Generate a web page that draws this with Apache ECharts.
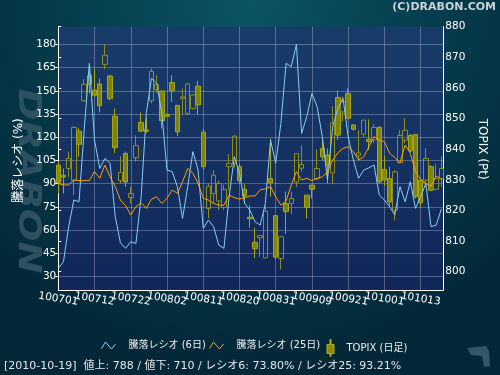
<!DOCTYPE html>
<html>
<head>
<meta charset="utf-8">
<script src="https://cdn.jsdelivr.net/npm/echarts@6/dist/echarts.min.js"></script>
<style>html,body{margin:0;padding:0;background:#04303f;}#c{width:500px;height:375px;}</style>
</head>
<body>
<div id="c"></div>
<script>
// ---- data ----
var dates = ['100701','100702','100705','100706','100707','100708','100709','100712','100713','100714','100715','100716','100720','100721','100722','100723','100726','100727','100728','100729','100730',
'100802','100803','100804','100805','100806','100809','100810','100811','100812','100813','100816','100817','100818','100819','100820','100823','100824','100825','100826','100827','100830','100831',
'100901','100902','100903','100906','100907','100908','100909','100910','100913','100914','100915','100916','100917','100921','100922','100924','100927','100928','100929','100930',
'101001','101004','101005','101006','101007','101008','101012','101013','101014','101015','101018','101019'];

var ratio6 = [35.4,39.7,62.2,79.5,78.4,124.7,167.7,118.2,99.9,106.4,103.2,68.7,51.9,48.3,52.6,51.5,81.6,135.4,158.0,154.8,
135.4,98.8,97.8,88.1,67.6,88.1,110.7,98.8,61.2,66.6,62.3,50.4,48.3,81.6,107.5,96.7,77.3,73.0,65.5,63.3,
77.3,118.2,103.2,129.0,167.7,165.6,180.0,122.5,133.3,148.3,139.7,120.4,92.4,126.8,138.6,145.1,120.4,105.3,93.5,98.8,
100.3,102.1,82.7,79.5,75.2,69.8,88.1,78.4,91.3,74.1,81.6,90.2,62.3,63.3,73.8];

var ratio25 = [90.2,89.2,89.2,92.4,92.0,92.0,92.0,97.8,93.5,102.1,94.5,88.1,79.5,75.8,69.8,75.2,77.8,74.1,80.1,81.6,
77.3,80.6,85.9,83.8,91.3,99.9,96.7,90.2,80.6,79.5,77.3,76.2,76.2,82.7,81.0,80.1,81.0,82.1,82.1,86.0,
86.8,88.1,81.6,76.2,78.8,89.2,97.8,92.4,93.5,92.0,93.5,94.5,97.8,105.3,110.0,112.8,113.9,110.7,105.3,107.5,
113.9,120.4,118.2,117.1,109.6,107.0,103.6,115.0,109.6,97.8,92.8,90.2,88.5,95.0,93.2];

// TOPIX daily: [open, close, low, high]
var topix = [
[834.8,829.0,825.5,836.0],[831.5,830.9,825.5,833.7],[833.7,837.0,831.0,839.2],[829.9,847.1,825.0,847.5],[845.9,841.6,837.5,846.8],
[855.8,861.2,855.5,862.9],[864.1,861.2,858.2,866.7],[859.3,857.6,857.1,866.1],[861.3,854.2,852.0,863.1],[867.7,870.7,866.1,874.3],
[863.9,856.5,856.0,864.2],[850.8,840.5,838.8,853.3],[829.7,832.4,828.8,837.7],[838.6,829.3,827.7,839.2],[824.2,825.5,822.3,827.7],
[837.2,841.2,835.9,844.5],[848.7,845.9,845.7,852.0],[846.3,845.9,845.2,850.3],[855.8,865.4,855.0,866.4],[859.5,861.2,858.2,864.2],
[859.0,849.3,846.8,859.0],[851.4,850.8,850.5,851.5],[861.8,859.1,855.5,864.2],[854.3,845.7,844.3,854.4],[856.6,857.1,851.1,859.9],
[851.7,861.3,851.1,861.7],[853.3,857.7,853.0,858.0],[860.6,854.5,851.4,862.3],[845.6,834.3,833.2,846.6],[820.6,827.9,817.4,828.8],
[825.5,831.5,822.3,833.2],[823.1,828.8,820.1,829.7],[821.0,826.8,820.1,828.4],[834.3,835.3,826.6,838.4],[835.3,844.3,834.0,844.5],
[834.3,829.7,828.6,835.3],[826.9,824.8,822.3,828.6],[817.8,817.3,814.4,821.7],[809.6,807.5,804.5,814.4],[811.1,811.8,804.8,811.8],
[804.5,819.7,804.5,821.7],[830.4,829.0,824.5,843.5],[818.3,804.8,804.0,818.5],[804.3,811.4,800.7,811.5],[822.3,819.6,812.3,826.1],
[822.3,823.9,818.8,826.1],[829.3,838.6,827.7,838.6],[833.8,835.0,832.6,841.3],[825.0,821.0,817.4,825.0],[828.3,826.9,823.9,828.3],
[830.4,833.7,829.9,839.9],[840.2,837.5,836.4,843.2],[838.1,834.8,828.8,840.2],[832.3,848.6,828.6,854.1],[856.9,844.6,843.0,859.1],
[852.2,855.5,849.0,857.2],[858.2,850.1,850.0,859.9],[847.9,846.5,846.0,848.2],[838.0,838.8,836.4,846.2],[844.9,849.5,844.0,849.5],
[843.2,842.5,839.7,849.7],[843.0,847.1,841.9,848.2],[847.1,829.3,828.8,847.5],[833.4,829.9,828.0,838.0],[830.4,822.8,821.2,834.3],
[820.1,832.6,816.8,833.2],[835.6,844.5,835.3,846.2],[843.0,846.2,841.9,850.1],[844.5,839.5,839.0,845.0],[844.8,824.5,823.9,845.0],
[829.9,822.5,821.0,830.0],[829.9,837.0,827.7,840.3],[834.3,826.6,826.4,834.8],[826.9,830.4,826.6,835.3],[830.4,833.7,827.7,837.7]];

var ratioTicks = {min: 30, max: 180, step: 15};
var topixTicks = {min: 800, max: 880, step: 10};
var dateStep = 7;
var seriesNames = ['騰落レシオ (6日)', '騰落レシオ (25日)', 'TOPIX (日足)'];
var statusText = '[2010-10-19]  値上: 788 / 値下: 710 / レシオ6: 73.80% / レシオ25: 93.21%';
var titleText = '(C)DRABON.COM';

// ---- chart ----
var FONT = '"DejaVu Sans", "Noto Sans CJK JP", sans-serif';
var chart = echarts.init(document.getElementById('c'), null, {renderer: 'canvas'});
var XMAX = 74.37;
var gl = 58.3, gr = 56.7;
var PW = 500 - gl - gr;
var unit = PW / XMAX;
var gridColor = 'rgba(255,255,255,0.27)';

function isMult(v, m) { var r = Math.round(v); return Math.abs(v - r) < 1e-6 && r % m === 0; }
var labelBase = {show: true, color: '#ffffff', fontSize: 10.5, fontFamily: FONT, rotate: -9, align: 'center',
  verticalAlign: 'middle', margin: 9, showMinLabel: true, showMaxLabel: false};

var option = {
  animation: false,
  textStyle: {fontFamily: FONT},
  graphic: {elements: [
    {type: 'rect', z: -100, silent: true, shape: {x: 0, y: 0, width: 500, height: 375},
     style: {fill: {type: 'radial', x: 0.5, y: 0, r: 1.0, colorStops: [
       {offset: 0, color: '#0b5464'}, {offset: 0.55, color: '#053a4a'}, {offset: 1, color: '#032737'}]}}},
    {type: 'text', z: -50, silent: true, x: 27, y: 181, rotation: -Math.PI / 2, scaleX: 1.2,
     style: {text: 'DRABON', font: 'italic bold 32px "DejaVu Sans"', fill: '#2e5061', align: 'center', verticalAlign: 'middle'}},
    {type: 'polygon', z: -50, silent: true, shape: {points: [[467,348],[486,346],[489,351],[490,366],[484,367],[482,356],[471,355]]},
     style: {fill: '#33566a'}},
    {type: 'text', silent: true, x: 496, y: 7.5,
     style: {text: titleText, font: 'bold 11px "DejaVu Sans"', fill: '#c8d2d6', align: 'right', verticalAlign: 'middle'}},
    {type: 'text', silent: true, x: 4, y: 366,
     style: {text: statusText, font: '11px ' + FONT, fill: '#e6e6e6', align: 'left', verticalAlign: 'middle'}}
  ]},
  grid: [
    {left: gl, right: gr, top: 26.7, bottom: 85, show: true, borderWidth: 0,
     backgroundColor: {type: 'linear', x: 0, y: 0, x2: 0, y2: 1, colorStops: [{offset: 0, color: '#183c69'}, {offset: 1, color: '#112659'}]}},
    {left: gl, right: gr, top: 44.3, bottom: 98.3},
    {left: gl, right: gr, top: 26.7, bottom: 103.3},
    // label-only grid shifted by one date step (odd labels)
    {left: gl + dateStep * unit, right: gr, top: 26.7, bottom: 85}
  ],
  xAxis: [
    {type: 'value', gridIndex: 0, min: 0, max: XMAX, interval: dateStep,
     axisLine: {show: true, lineStyle: {color: '#ffffff', width: 1}},
     axisTick: {show: false},
     splitLine: {show: true, lineStyle: {color: gridColor, width: 1}},
     axisLabel: {show: false}},
    {type: 'value', gridIndex: 1, min: 0, max: XMAX, show: false},
    {type: 'value', gridIndex: 2, min: 0, max: XMAX, interval: dateStep * 2, offset: 18.3,
     axisLine: {show: false}, axisTick: {show: false}, splitLine: {show: false},
     axisLabel: Object.assign({}, labelBase, {formatter: function (v) { return isMult(v, dateStep * 2) && dates[Math.round(v)] ? dates[Math.round(v)] : ''; }})},
    {type: 'value', gridIndex: 3, min: 0, max: XMAX - dateStep, interval: dateStep * 2,
     axisLine: {show: false}, axisTick: {show: false}, splitLine: {show: false},
     axisLabel: Object.assign({}, labelBase, {formatter: function (v) { var k = Math.round(v) + dateStep; return isMult(v, dateStep * 2) && dates[k] ? dates[k] : ''; }})}
  ],
  yAxis: [
    {type: 'value', gridIndex: 0, min: 0, max: 1, position: 'left',
     axisLine: {show: true, lineStyle: {color: '#ffffff', width: 1}}, axisTick: {show: false}, axisLabel: {show: false}, splitLine: {show: false}},
    {type: 'value', gridIndex: 0, min: 0, max: 1, position: 'right',
     axisLine: {show: true, lineStyle: {color: '#ffffff', width: 1}}, axisTick: {show: false}, axisLabel: {show: false}, splitLine: {show: false}},
    {type: 'value', gridIndex: 1, position: 'left', min: ratioTicks.min, max: ratioTicks.max, interval: ratioTicks.step,
     name: '騰落レシオ (%)', nameLocation: 'middle', nameGap: 33,
     nameTextStyle: {color: '#ffffff', fontSize: 12, fontFamily: FONT},
     axisLine: {show: false},
     axisTick: {show: true, length: 3, lineStyle: {color: '#ffffff'}},
     axisLabel: {color: '#ffffff', fontSize: 10.5, fontFamily: FONT, margin: 2},
     splitLine: {show: true, lineStyle: {color: gridColor, width: 1}}},
    {type: 'value', gridIndex: 2, position: 'right', min: topixTicks.min, max: topixTicks.max, interval: topixTicks.step,
     name: 'TOPIX (Pt)', nameLocation: 'middle', nameGap: 33, nameRotate: -90,
     nameTextStyle: {color: '#ffffff', fontSize: 12, fontFamily: FONT},
     axisLine: {show: false},
     axisTick: {show: true, length: 3, lineStyle: {color: '#ffffff'}},
     axisLabel: {color: '#ffffff', fontSize: 10.5, fontFamily: FONT, margin: 2},
     splitLine: {show: false}},
    {type: 'value', gridIndex: 3, min: 0, max: 1, show: false}
  ],
  legend: [
    {left: 96, top: 335.5, itemWidth: 14, itemHeight: 14, selectedMode: false,
     textStyle: {color: '#eeeeee', fontSize: 10, fontFamily: FONT, padding: [0, 0, 0, 8]},
     data: [{name: seriesNames[0], icon: 'path://M0,7 L4,0.5 L10,7.5 L14,2.5', itemStyle: {color: 'rgba(0,0,0,0)', borderColor: '#8fd4f4', borderWidth: 1}}]},
    {left: 204, top: 335.5, itemWidth: 14, itemHeight: 14, selectedMode: false,
     textStyle: {color: '#eeeeee', fontSize: 10, fontFamily: FONT, padding: [0, 0, 0, 8]},
     data: [{name: seriesNames[1], icon: 'path://M0,7 L4,0.5 L10,7.5 L14,2.5', itemStyle: {color: 'rgba(0,0,0,0)', borderColor: '#ffa200', borderWidth: 1}}]},
    {left: 321.5, top: 334, itemWidth: 14, itemHeight: 17, selectedMode: false,
     textStyle: {color: '#eeeeee', fontSize: 10, fontFamily: FONT, padding: [0, 0, 0, 4]},
     data: [{name: seriesNames[2], icon: 'path://M3,0 L4,0 L4,5 L7,5 L7,14 L4,14 L4,17 L3,17 L3,14 L0,14 L0,5 L3,5 Z', itemStyle: {color: '#8c8c00', borderColor: '#b4b420', borderWidth: 1}}]}
  ],
  series: [
    {name: seriesNames[2], type: 'candlestick', xAxisIndex: 2, yAxisIndex: 3, z: 2,
     data: topix.map(function (c, i) { return [i, c[0], c[1], c[2], c[3]]; }),
     encode: {x: 0, y: [1, 2, 3, 4]},
     barWidth: 5,
     itemStyle: {color: 'rgba(0,0,0,0)', color0: 'rgba(140,140,0,0.9)', borderColor: '#8e8e16', borderColor0: '#a6a614', borderWidth: 1}},
    {name: seriesNames[0], type: 'line', xAxisIndex: 1, yAxisIndex: 2, z: 4, clip: false,
     data: ratio6.map(function (v, i) { return [i, v]; }),
     showSymbol: false, symbol: 'none', lineStyle: {color: '#88cdf0', width: 1}, itemStyle: {color: '#88cdf0'}},
    {name: seriesNames[1], type: 'line', xAxisIndex: 1, yAxisIndex: 2, z: 4, clip: false,
     data: ratio25.map(function (v, i) { return [i, v]; }),
     showSymbol: false, symbol: 'none', lineStyle: {color: '#ff9e00', width: 1}, itemStyle: {color: '#ff9e00'}}
  ]
};
chart.setOption(option);
</script>
</body>
</html>
